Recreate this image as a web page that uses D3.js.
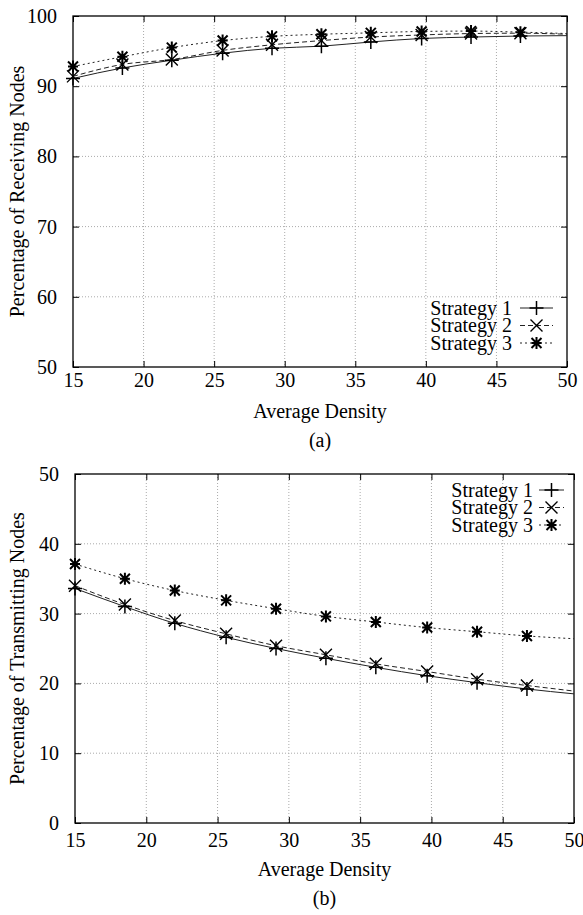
<!DOCTYPE html>
<html>
<head>
<meta charset="utf-8">
<script src="https://cdn.jsdelivr.net/npm/d3@7"></script>
<style>
  html, body { margin: 0; padding: 0; background: #fff; }
  svg { display: block; }
  text { font-family: "Liberation Serif", "Times New Roman", serif; fill: #000; }
</style>
</head>
<body>
<svg id="chart" width="583" height="915"></svg>
<script>
// ---- data ----
const densities = [15, 18.5, 22.0, 25.6, 29.1, 32.6, 36.1, 39.7, 43.2, 46.7];
const curveEnd = 50;
const seriesNames = ["Strategy 1", "Strategy 2", "Strategy 3"];

// (a) Percentage of receiving nodes
const recv1 = [91.1, 92.6, 93.7, 94.7, 95.4, 95.7, 96.3, 96.8, 97.0, 97.15];
const recv2 = [91.4, 93.1, 93.8, 95.1, 95.9, 96.5, 97.0, 97.3, 97.5, 97.55];
const recv3 = [92.8, 94.2, 95.5, 96.5, 97.1, 97.4, 97.6, 97.8, 97.85, 97.7];
const recvEnd = [97.2, 97.4, 97.5];

// (b) Percentage of transmitting nodes
const trans1 = [33.6, 31.0, 28.6, 26.6, 25.0, 23.6, 22.3, 21.1, 20.1, 19.2];
const trans2 = [34.0, 31.3, 29.0, 27.1, 25.4, 24.1, 22.8, 21.7, 20.6, 19.7];
const trans3 = [37.1, 35.0, 33.3, 31.9, 30.7, 29.6, 28.8, 28.0, 27.4, 26.8];
const transEnd = [18.5, 18.9, 26.4];

const xTicks = [15, 20, 25, 30, 35, 40, 45, 50];
const yTicksA = [50, 60, 70, 80, 90, 100];
const yTicksB = [0, 10, 20, 30, 40, 50];

const xTitle = "Average Density";
const yTitleA = "Percentage of Receiving Nodes";
const yTitleB = "Percentage of Transmitting Nodes";

// ---- drawing ----
const svg = d3.select("#chart");
const FS = 20;
const dashes = [null, "5,3", "2,3"];

function marker(g, type, cx, cy) {
  const s = 6;
  const p = g.append("g").attr("transform", `translate(${cx},${cy})`)
    .attr("stroke", "#000").attr("fill", "none");
  if (type === 0) {
    p.append("path").attr("d", `M${-s-1},0H${s+1}M0,${-s-1}V${s+1}`).attr("stroke-width", 1.5);
  } else if (type === 1) {
    p.append("path").attr("d", `M${-s},${-s}L${s},${s}M${-s},${s}L${s},${-s}`).attr("stroke-width", 1.4);
  } else {
    const a = 5;
    p.append("path").attr("d", `M${-a},0H${a}M0,${-a-1}V${a+1}M${-a},${-a}L${a},${a}M${-a},${a}L${a},${-a}`).attr("stroke-width", 2);
  }
}

function panel(cfg) {
  const x = d3.scaleLinear().domain([15, 50]).range([cfg.left, cfg.right]);
  const y = d3.scaleLinear().domain(cfg.yDomain).range([cfg.bottom, cfg.top]);
  const g = svg.append("g");

  // grid
  g.append("g").selectAll("line").data(xTicks.slice(1, -1)).join("line")
    .attr("x1", d => x(d)).attr("x2", d => x(d))
    .attr("y1", cfg.top).attr("y2", cfg.bottom)
    .attr("stroke", "#aaa").attr("stroke-width", 1).attr("stroke-dasharray", "1,2");
  g.append("g").selectAll("line").data(cfg.yTicks.slice(1, -1)).join("line")
    .attr("y1", d => y(d)).attr("y2", d => y(d))
    .attr("x1", cfg.left).attr("x2", cfg.right)
    .attr("stroke", "#aaa").attr("stroke-width", 1).attr("stroke-dasharray", "1,2");

  // axes (inward ticks, mirrored)
  const tl = 6;
  const axB = g.append("g").attr("transform", `translate(0,${cfg.bottom})`)
    .call(d3.axisBottom(x).tickValues(xTicks).tickSize(-tl).tickPadding(tl + cfg.xPad).tickFormat(d3.format("d")));
  const axT = g.append("g").attr("transform", `translate(0,${cfg.top})`)
    .call(d3.axisTop(x).tickValues(xTicks).tickSize(-tl).tickFormat(""));
  const axL = g.append("g").attr("transform", `translate(${cfg.left},0)`)
    .call(d3.axisLeft(y).tickValues(cfg.yTicks).tickSize(-tl).tickPadding(tl + 10).tickFormat(d3.format("d")));
  const axR = g.append("g").attr("transform", `translate(${cfg.right},0)`)
    .call(d3.axisRight(y).tickValues(cfg.yTicks).tickSize(-tl).tickFormat(""));
  [axB, axT, axL, axR].forEach(a => {
    a.select(".domain").remove();
    a.selectAll("line").attr("stroke", "#000");
    a.selectAll("text").attr("font-family", "Liberation Serif").attr("font-size", FS).attr("fill", "#000");
  });
  g.append("rect").attr("x", cfg.left).attr("y", cfg.top)
    .attr("width", cfg.right - cfg.left).attr("height", cfg.bottom - cfg.top)
    .attr("fill", "none").attr("stroke", "#000").attr("stroke-width", 1.3);

  // series
  const line = d3.line().x(d => x(d[0])).y(d => y(d[1])).curve(d3.curveMonotoneX);
  cfg.series.forEach((vals, i) => {
    const pts = densities.map((d, k) => [d, vals[k]]).concat([[curveEnd, cfg.ends[i]]]);
    g.append("path").datum(pts).attr("d", line)
      .attr("fill", "none").attr("stroke", "#222").attr("stroke-width", 1)
      .attr("stroke-dasharray", dashes[i]);
  });
  cfg.series.forEach((vals, i) => {
    densities.forEach((d, k) => marker(g, i, x(d), y(vals[k])));
  });

  // legend
  seriesNames.forEach((name, i) => {
    const ly = cfg.legY + i * 17.5;
    g.append("text").attr("x", cfg.legTextX).attr("y", ly + 6.5)
      .attr("text-anchor", "end").attr("font-size", FS).text(name);
    g.append("line").attr("x1", cfg.legX1).attr("x2", cfg.legX2)
      .attr("y1", ly).attr("y2", ly)
      .attr("stroke", "#222").attr("stroke-width", 1).attr("stroke-dasharray", dashes[i]);
    marker(g, i, (cfg.legX1 + cfg.legX2) / 2, ly);
  });

  // titles
  const cx = (cfg.left + cfg.right) / 2;
  g.append("text").attr("x", cx).attr("y", cfg.bottom + cfg.titleOff)
    .attr("text-anchor", "middle").attr("font-size", FS).text(xTitle);
  g.append("text").attr("x", cx).attr("y", cfg.bottom + cfg.titleOff + 29)
    .attr("text-anchor", "middle").attr("font-size", FS).text(cfg.caption);
  g.append("text")
    .attr("transform", `translate(24,${(cfg.top + cfg.bottom) / 2}) rotate(-90)`)
    .attr("text-anchor", "middle").attr("font-size", FS).text(cfg.yTitle);
}

panel({
  left: 73, right: 567, top: 16, bottom: 367, xPad: 0,
  yDomain: [50, 100], yTicks: yTicksA,
  series: [recv1, recv2, recv3], ends: recvEnd,
  legY: 308, legTextX: 512, legX1: 520, legX2: 553,
  titleOff: 51, caption: "(a)", yTitle: yTitleA
});

panel({
  left: 75, right: 574, top: 474, bottom: 823, xPad: 4,
  yDomain: [0, 50], yTicks: yTicksB,
  series: [trans1, trans2, trans3], ends: transEnd,
  legY: 490, legTextX: 533, legX1: 539, legX2: 564,
  titleOff: 53, caption: "(b)", yTitle: yTitleB
});
</script>
</body>
</html>
